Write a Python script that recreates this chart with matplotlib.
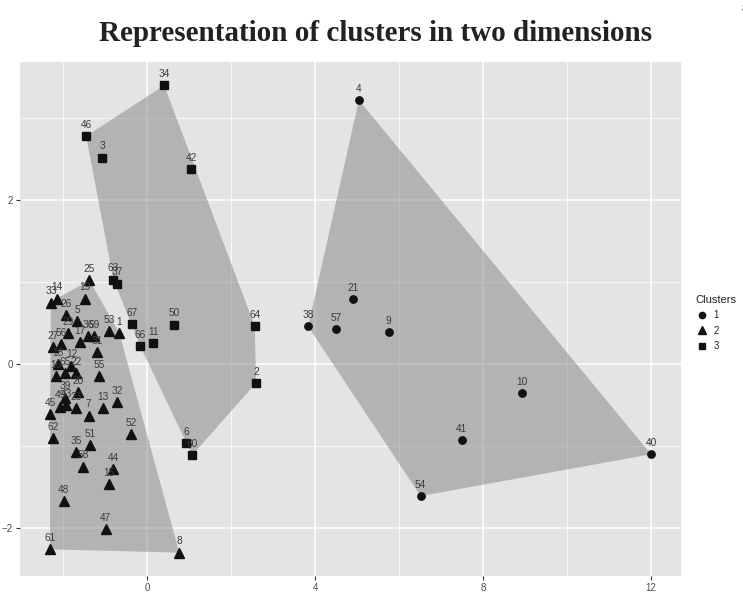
import matplotlib
matplotlib.use("Agg")
import matplotlib.pyplot as plt
from matplotlib.lines import Line2D
import numpy as np

# Two-dimensional coordinates of each observation, grouped by cluster
c1_ids = [4, 21, 38, 57, 9, 10, 41, 54, 40]
c1_x = [5.04, 4.89, 3.83, 4.49, 5.75, 8.93, 7.49, 6.51, 12.0]
c1_y = [3.22, 0.79, 0.46, 0.43, 0.39, -0.35, -0.93, -1.61, -1.10]

c2_ids = [25, 33, 14, 19, 26, 5, 29, 36, 59, 17, 53, 1, 27, 56, 31, 18, 16, 65,
          12, 22, 55, 20, 39, 49, 43, 23, 45, 7, 13, 32, 62, 52, 51, 35, 58, 44,
          15, 48, 47, 61, 8]
c2_x = [-1.38, -2.30, -2.16, -1.49, -1.94, -1.68, -1.89, -1.42, -1.27, -1.61,
        -0.91, -0.67, -2.24, -2.05, -1.19, -2.12, -2.18, -1.96, -1.81, -1.70,
        -1.16, -1.66, -1.96, -2.08, -1.93, -1.70, -2.32, -1.40, -1.06, -0.73,
        -2.25, -0.39, -1.37, -1.69, -1.54, -0.82, -0.92, -1.99, -0.99, -2.32,
        0.76]
c2_y = [1.02, 0.75, 0.80, 0.80, 0.60, 0.52, 0.38, 0.34, 0.34, 0.27, 0.40, 0.38,
        0.21, 0.24, 0.15, 0.00, -0.15, -0.11, -0.02, -0.11, -0.15, -0.34, -0.41,
        -0.52, -0.50, -0.54, -0.61, -0.63, -0.54, -0.46, -0.90, -0.85, -0.99,
        -1.07, -1.25, -1.28, -1.46, -1.67, -2.01, -2.26, -2.30]

c3_ids = [34, 46, 3, 42, 63, 37, 67, 66, 11, 50, 64, 2, 6, 60]
c3_x = [0.40, -1.46, -1.07, 1.04, -0.81, -0.72, -0.36, -0.17, 0.14, 0.64,
        2.56, 2.59, 0.93, 1.07]
c3_y = [3.40, 2.78, 2.52, 2.38, 1.03, 0.98, 0.49, 0.22, 0.26, 0.48, 0.46,
        -0.23, -0.96, -1.11]

cluster_names = ["1", "2", "3"]
x_ticks = [0, 4, 8, 12]
y_ticks = [-2, 0, 2]


def convex_hull(xs, ys):
    pts = sorted(set(zip(xs, ys)))

    def cross(o, a, b):
        return (a[0] - o[0]) * (b[1] - o[1]) - (a[1] - o[1]) * (b[0] - o[0])

    lower, upper = [], []
    for p in pts:
        while len(lower) >= 2 and cross(lower[-2], lower[-1], p) <= 0:
            lower.pop()
        lower.append(p)
    for p in reversed(pts):
        while len(upper) >= 2 and cross(upper[-2], upper[-1], p) <= 0:
            upper.pop()
        upper.append(p)
    hull = lower[:-1] + upper[:-1]
    return [p[0] for p in hull], [p[1] for p in hull]


W, H = 743, 592
fig = plt.figure(figsize=(W / 100, H / 100), dpi=100)
fig.patch.set_facecolor("white")
ax = fig.add_axes([20 / W, 1 - 576 / H, (681 - 20) / W, (576 - 62) / H])
ax.set_facecolor("#e4e4e6")

clusters = [
    (c1_ids, c1_x, c1_y, "o", 5.3),
    (c2_ids, c2_x, c2_y, "^", 7.0),
    (c3_ids, c3_x, c3_y, "s", 5.5),
]

# hull polygons
for ids, xs, ys, m, ms in clusters:
    hx, hy = convex_hull(xs, ys)
    ax.fill(hx, hy, facecolor="#838387", alpha=0.5, edgecolor="none", zorder=2)

# points and their labels
for ids, xs, ys, m, ms in clusters:
    ax.plot(xs, ys, linestyle="none", marker=m, markersize=ms,
            color="#111111", zorder=3)
    for i, x, y in zip(ids, xs, ys):
        ax.annotate(str(i), (x, y), xytext=(0, 4.5), textcoords="offset points",
                    ha="center", va="bottom", fontsize=7.3, color="#3a3a3a",
                    family="Liberation Sans", zorder=4)

all_x = c1_x + c2_x + c3_x
all_y = c1_y + c2_y + c3_y
xr = max(all_x) - min(all_x)
yr = max(all_y) - min(all_y)
ax.set_xlim(min(all_x) - 0.05 * xr, max(all_x) + 0.05 * xr)
ax.set_ylim(min(all_y) - 0.05 * yr, max(all_y) + 0.05 * yr)

ax.set_xticks(x_ticks)
ax.set_yticks(y_ticks)
ax.set_xticks([-2, 2, 6, 10], minor=True)
ax.set_yticks([-1, 1, 3], minor=True)
ax.grid(which="major", color="white", linewidth=1.1, zorder=0)
ax.grid(which="minor", color="white", linewidth=0.55, zorder=0)
ax.set_axisbelow(True)
for s in ax.spines.values():
    s.set_visible(False)
ax.tick_params(which="major", length=3, width=0.8, color="#333333",
               labelsize=7, labelcolor="#4d4d4d", pad=2)
ax.tick_params(which="minor", length=0)
for lab in ax.get_xticklabels() + ax.get_yticklabels():
    lab.set_family("Liberation Sans")

# legend
handles = [Line2D([], [], linestyle="none", marker=m, markersize=ms * 0.85,
                  color="#111111")
           for (_, _, _, m, ms) in clusters]
leg = ax.legend(handles, cluster_names, title="Clusters", loc="upper left",
                bbox_to_anchor=(1.012, 0.56), frameon=False, fontsize=7,
                title_fontsize=8, handlelength=1.2, handletextpad=0.6,
                labelspacing=0.55, borderaxespad=0.3)
leg._legend_box.align = "left"
for t in leg.get_texts() + [leg.get_title()]:
    t.set_family("Liberation Sans")
    t.set_color("#222222")

fig.text(0.505, 0.944, "Representation of clusters in two dimensions",
         ha="center", va="center", fontsize=21, fontweight="bold",
         family="Liberation Serif", color="#222222")
fig.text(0.998, 0.985, "8", ha="left", va="center", fontsize=9,
         family="Liberation Serif", color="#222222")

fig.savefig("out.png", dpi=100)
